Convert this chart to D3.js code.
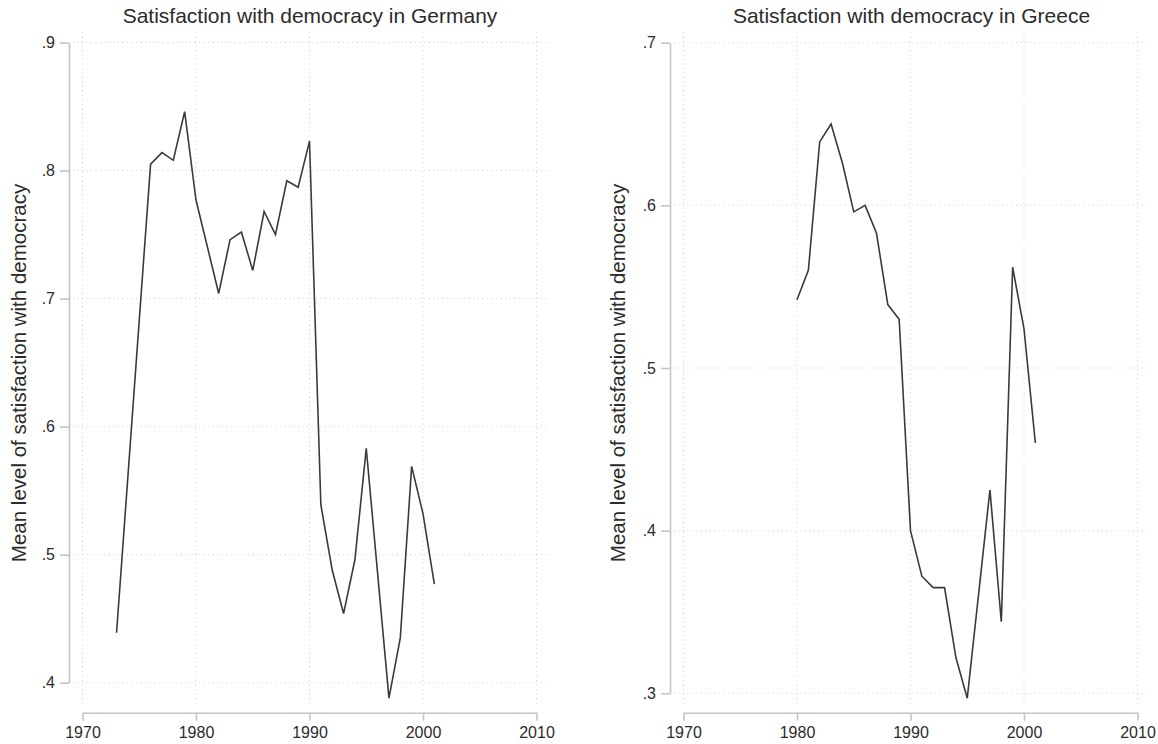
<!DOCTYPE html>
<html>
<head>
<meta charset="utf-8">
<script src="https://cdn.jsdelivr.net/npm/d3@7"></script>
<style>
  html, body { margin: 0; padding: 0; background: #fff; }
  svg { display: block; font-family: "Liberation Sans", Arial, sans-serif; }
  .axis path, .axis line { stroke: #c4c4c4; stroke-width: 1.6; }
  .axis text { fill: #2b2b2b; font-size: 16px; }
  .grid line { stroke: #cfcfcf; stroke-width: 1; stroke-dasharray: 1 3.5; }
  .series { fill: none; stroke: #3a3a3a; stroke-width: 1.6; stroke-linejoin: miter; }
  .title { fill: #2b2b2b; font-size: 21px; text-anchor: middle; }
  .ylabel { fill: #2b2b2b; font-size: 20.5px; text-anchor: middle; }
</style>
</head>
<body>
<svg id="chart" width="1158" height="744"></svg>
<script>
// Mean satisfaction with democracy, Germany
const germanyYears  = [1973, 1976, 1977, 1978, 1979, 1980, 1982, 1983, 1984, 1985, 1986, 1987, 1988, 1989, 1990,
                       1991, 1992, 1993, 1994, 1995, 1997, 1998, 1999, 2000, 2001];
const germanyValues = [0.439, 0.805, 0.814, 0.808, 0.846, 0.777, 0.704, 0.746, 0.752, 0.722, 0.768, 0.750, 0.792, 0.787, 0.823,
                       0.539, 0.488, 0.454, 0.496, 0.583, 0.388, 0.435, 0.569, 0.532, 0.477];

// Mean satisfaction with democracy, Greece
const greeceYears  = [1980, 1981, 1982, 1983, 1984, 1985, 1986, 1987, 1988, 1989, 1990, 1991, 1992, 1993, 1994, 1995,
                      1997, 1998, 1999, 2000, 2001];
const greeceValues = [0.542, 0.560, 0.639, 0.650, 0.626, 0.596, 0.600, 0.583, 0.539, 0.530, 0.400, 0.372, 0.365, 0.365,
                      0.322, 0.297, 0.425, 0.344, 0.562, 0.524, 0.454];

const yearTicks     = [1970, 1980, 1990, 2000, 2010];
const germanyYTicks = [0.4, 0.5, 0.6, 0.7, 0.8, 0.9];
const greeceYTicks  = [0.3, 0.4, 0.5, 0.6, 0.7];

const titles = ["Satisfaction with democracy in Germany", "Satisfaction with democracy in Greece"];
const yTitle = "Mean level of satisfaction with democracy";

const svg = d3.select("#chart");
const fmtY = v => d3.format(".1f")(v).replace(/^0/, "");

const panels = [
  { title: titles[0], years: germanyYears, values: germanyValues, yTicks: germanyYTicks,
    yDomain: [0.4, 0.9], xRange: [82.5, 536.5], yRange: [682.7, 42.5],
    axisX: 69, region: [73, 547], labelX: 26 },
  { title: titles[1], years: greeceYears, values: greeceValues, yTicks: greeceYTicks,
    yDomain: [0.3, 0.7], xRange: [683.5, 1137.5], yRange: [693.3, 42.7],
    axisX: 670, region: [674, 1149], labelX: 625 }
];

const xAxisY = 712.7;
const regionTop = 32, regionBottom = 707;

panels.forEach(p => {
  const x = d3.scaleLinear().domain([1970, 2010]).range(p.xRange);
  const y = d3.scaleLinear().domain(p.yDomain).range(p.yRange);
  const g = svg.append("g");

  // dotted grid
  const grid = g.append("g").attr("class", "grid");
  grid.selectAll("line.h").data(p.yTicks).join("line").attr("class", "h")
    .attr("x1", p.region[0]).attr("x2", p.region[1])
    .attr("y1", d => y(d)).attr("y2", d => y(d));
  grid.selectAll("line.v").data(yearTicks).join("line").attr("class", "v")
    .attr("x1", d => x(d)).attr("x2", d => x(d))
    .attr("y1", regionTop).attr("y2", regionBottom);

  // axes
  g.append("g").attr("class", "axis")
    .attr("transform", `translate(${p.axisX},0)`)
    .call(d3.axisLeft(y).tickValues(p.yTicks).tickFormat(fmtY).tickSize(9).tickSizeOuter(0).tickPadding(5));
  g.append("g").attr("class", "axis")
    .attr("transform", `translate(0,${xAxisY})`)
    .call(d3.axisBottom(x).tickValues(yearTicks).tickFormat(d3.format("d")).tickSize(8).tickSizeOuter(0).tickPadding(6));

  // series line
  const pts = p.years.map((yr, i) => [yr, p.values[i]]);
  g.append("path").datum(pts).attr("class", "series")
    .attr("d", d3.line().x(d => x(d[0])).y(d => y(d[1])));

  // titles
  g.append("text").attr("class", "title")
    .attr("x", (p.region[0] + p.region[1]) / 2).attr("y", 23)
    .text(p.title);
  g.append("text").attr("class", "ylabel")
    .attr("transform", `translate(${p.labelX},373) rotate(-90)`)
    .text(yTitle);
});
</script>
</body>
</html>
